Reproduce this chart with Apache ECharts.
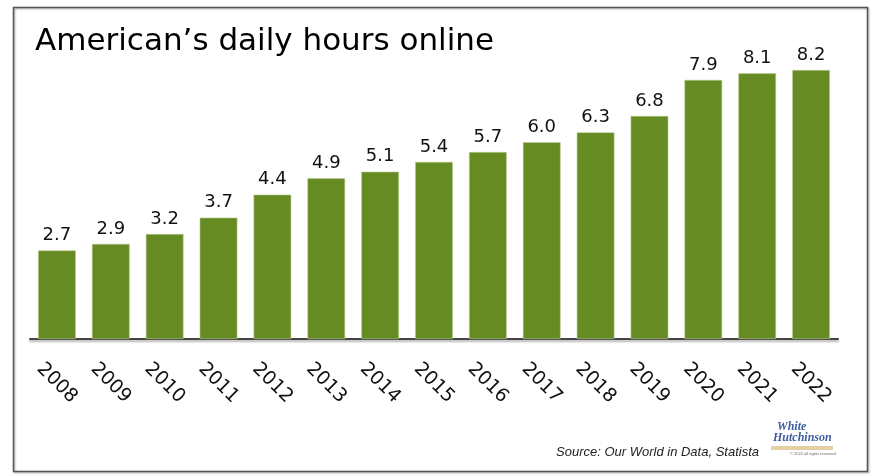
<!DOCTYPE html>
<html><head><meta charset="utf-8">
<script src="https://cdn.jsdelivr.net/npm/echarts@6/dist/echarts.min.js"></script>
<style>html,body{margin:0;padding:0;background:#fff}#c{width:880px;height:476px}</style>
</head><body><div id="c"></div>
<script>
const years = ['2008','2009','2010','2011','2012','2013','2014','2015','2016','2017','2018','2019','2020','2021','2022'];
const hours = [2.7, 2.9, 3.2, 3.7, 4.4, 4.9, 5.1, 5.4, 5.7, 6.0, 6.3, 6.8, 7.9, 8.1, 8.2];
const titleText = "American\u2019s daily hours online";
const sourceText = 'Source: Our World in Data, Statista';

const chart = echarts.init(document.getElementById('c'), null, {renderer: 'canvas'});
chart.setOption({
  animation: false,
  backgroundColor: '#fff',
  grid: {left: 30, right: 42, top: 11, bottom: 137, containLabel: false},
  xAxis: {
    type: 'category', data: years,
    axisLine: {show: true, lineStyle: {color: '#444', width: 2, shadowColor: 'rgba(0,0,0,0.3)', shadowOffsetY: 2, shadowBlur: 2}},
    axisTick: {show: false},
    axisLabel: {rotate: -45, fontSize: 19, color: '#111', fontFamily: 'DejaVu Sans', margin: 44, interval: 0,
      align: 'center', verticalAlign: 'middle'}
  },
  yAxis: {type: 'value', min: 0, max: 10, show: false, splitLine: {show: false}},
  series: [{
    type: 'bar', data: hours, barCategoryGap: '30%',
    itemStyle: {color: '#678b23', borderColor: '#b9cc92', borderWidth: 0.6},
    label: {show: true, position: 'top', distance: 6, fontSize: 18, color: '#111', fontFamily: 'DejaVu Sans',
      formatter: p => p.value.toFixed(1)}
  }],
  graphic: [
    {type: 'rect', left: 11, top: 5, shape: {x: 0, y: 0, width: 854, height: 464},
     style: {fill: 'none', stroke: '#555', lineWidth: 1.5, shadowColor: 'rgba(0,0,0,0.35)', shadowOffsetX: 1, shadowOffsetY: 1, shadowBlur: 2}, z: 10},
    {type: 'text', left: 35, top: 26, style: {text: titleText, font: '31px "DejaVu Sans", sans-serif', fill: '#000'}},
    {type: 'text', left: 556, top: 446, style: {text: sourceText, font: 'italic 13px "Liberation Sans", Arial, sans-serif', fill: '#222'}},
    {type: 'text', left: 777, top: 421, style: {text: 'White', font: 'italic bold 12px "Liberation Serif", serif', fill: '#3d5ea0'}},
    {type: 'text', left: 773, top: 432, style: {text: 'Hutchinson', font: 'italic bold 12px "Liberation Serif", serif', fill: '#3d5ea0'}},
    {type: 'rect', left: 771, top: 446, shape: {width: 62, height: 4}, style: {fill: '#e7cfa5'}},
    {type: 'text', left: 790, top: 452, style: {text: '\u00a9 2022 all rights reserved', font: '4px sans-serif', fill: '#666'}}
  ]
});
</script></body></html>
